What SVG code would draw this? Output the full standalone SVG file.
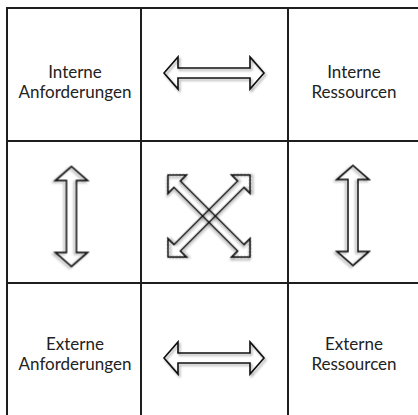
<svg xmlns="http://www.w3.org/2000/svg" xmlns:xlink="http://www.w3.org/1999/xlink" width="418" height="415" viewBox="0 0 418 415">
  <style>
    .grid { stroke: #1e1e1e; stroke-width: 2; fill: none; }
    .lbl { font-family: Lato, "Liberation Sans", sans-serif; font-size: 17px; fill: #222; text-anchor: middle; }
    .arr { fill: none; stroke: #111; stroke-width: 1.6; stroke-linejoin: miter; filter: url(#sh); }
  </style>
  <defs>
    <filter id="sh" x="-30%" y="-30%" width="160%" height="160%">
      <feDropShadow dx="1.5" dy="2" stdDeviation="1.2" flood-color="#000" flood-opacity="0.35"/>
    </filter>
    <path id="dbl" d="M-50,0 L-36,-16 L-36,-5 L36,-5 L36,-16 L50,0 L36,16 L36,5 L-36,5 L-36,16 Z"/>
    <path id="dblx" d="M-58,0 L-45,-13 L-45,-4.5 L45,-4.5 L45,-13 L58,0 L45,13 L45,4.5 L-45,4.5 L-45,13 Z"/>
  </defs>
  <rect width="418" height="415" fill="#fff"/>
  <g id="grid" class="grid">
    <line x1="7" y1="8" x2="418" y2="8"/>
    <line x1="7" y1="141" x2="418" y2="141"/>
    <line x1="7" y1="283" x2="418" y2="283"/>
    <line x1="7" y1="7" x2="7" y2="415"/>
    <line x1="141" y1="8" x2="141" y2="415"/>
    <line x1="288" y1="8" x2="288" y2="415"/>
  </g>
  <g id="interne-anforderungen">
    <text class="lbl" x="75" y="78">Interne</text>
    <text class="lbl" x="75" y="98">Anforderungen</text>
  </g>
  <g id="interne-ressourcen">
    <text class="lbl" x="354" y="78">Interne</text>
    <text class="lbl" x="354" y="98">Ressourcen</text>
  </g>
  <g id="externe-anforderungen">
    <text class="lbl" x="75" y="350">Externe</text>
    <text class="lbl" x="75" y="370">Anforderungen</text>
  </g>
  <g id="externe-ressourcen">
    <text class="lbl" x="354" y="350">Externe</text>
    <text class="lbl" x="354" y="370">Ressourcen</text>
  </g>
  <g id="connectors">
    <use xlink:href="#dbl" class="arr" transform="translate(214,73)"/>
    <use xlink:href="#dbl" class="arr" transform="translate(214,358)"/>
    <use xlink:href="#dbl" class="arr" transform="translate(71.5,216.5) rotate(90)"/>
    <use xlink:href="#dbl" class="arr" transform="translate(353,215.5) rotate(90)"/>
    <use xlink:href="#dblx" class="arr" transform="translate(209,216) rotate(45)"/>
    <use xlink:href="#dblx" class="arr" transform="translate(209,216) rotate(-45)"/>
  </g>
</svg>
